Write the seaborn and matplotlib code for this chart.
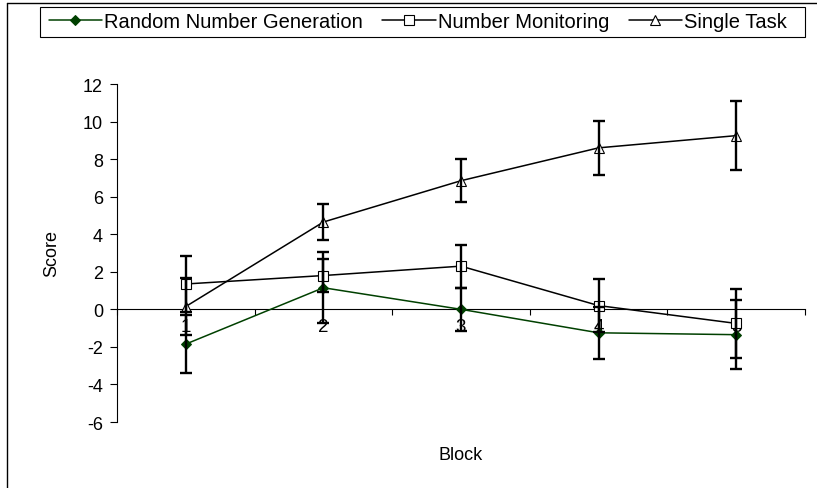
import matplotlib
matplotlib.use("Agg")
import matplotlib.pyplot as plt
import seaborn as sns
from matplotlib.lines import Line2D
from matplotlib.patches import Rectangle

sns.set_theme(style="ticks")
plt.rcParams["font.family"] = ["Liberation Sans", "DejaVu Sans"]
plt.rcParams["text.color"] = "black"
plt.rcParams["axes.labelcolor"] = "black"
plt.rcParams["xtick.color"] = "black"
plt.rcParams["ytick.color"] = "black"
plt.rcParams["axes.unicode_minus"] = False

# Data
blocks = [1, 2, 3, 4, 5]
rng_mean = [-1.85, 1.15, 0.0, -1.25, -1.35]
rng_err = [1.55, 1.9, 1.15, 1.4, 1.85]
nm_mean = [1.35, 1.8, 2.3, 0.2, -0.75]
nm_err = [1.5, 0.9, 1.15, 1.4, 1.85]
single_mean = [0.15, 4.65, 6.85, 8.6, 9.25]
single_err = [1.5, 0.95, 1.15, 1.45, 1.85]

GREEN = "#004000"
W, H = 817, 489

fig = plt.figure(figsize=(W / 100, H / 100), dpi=100)
ax = fig.add_axes([117 / W, 66 / H, 688 / W, 338 / H])

series = [
    ("Random Number Generation", rng_mean, rng_err,
     dict(color=GREEN, marker="D", markersize=5.5, markerfacecolor=GREEN, markeredgecolor=GREEN)),
    ("Number Monitoring", nm_mean, nm_err,
     dict(color="black", marker="s", markersize=7, markerfacecolor="white", markeredgecolor="black",
          markeredgewidth=0.8)),
    ("Single Task", single_mean, single_err,
     dict(color="black", marker="^", markersize=7.5, markerfacecolor="white", markeredgecolor="black",
          markeredgewidth=0.8)),
]

for name, mean, err, style in series:
    sns.lineplot(x=blocks, y=mean, ax=ax, label=name, linewidth=1.1, zorder=3, **style)
    ax.errorbar(blocks, mean, yerr=err, fmt="none", ecolor="black",
                elinewidth=1.7, capsize=4, capthick=1.7, zorder=4)

handles, labels = ax.get_legend_handles_labels()
ax.get_legend().remove()

ax.set_xlim(0.5, 5.5)
ax.set_ylim(-6, 12)
ax.set_yticks(range(-6, 13, 2))
ax.set_xticks([b - 0.5 for b in blocks] + [5.5])
ax.set_xticklabels([])
ax.set_xticks(blocks, minor=True)
ax.set_xticklabels([str(b) for b in blocks], minor=True)

ax.spines["top"].set_visible(False)
ax.spines["right"].set_visible(False)
ax.spines["bottom"].set_position(("data", 0))
for s in ("left", "bottom"):
    ax.spines[s].set_color("black")
    ax.spines[s].set_linewidth(0.8)

ax.tick_params(axis="x", which="major", direction="out", length=4, width=0.8)
ax.tick_params(axis="x", which="minor", length=0, pad=6, labelsize=13.5)
ax.tick_params(axis="y", direction="out", length=5, width=0.8, pad=5, labelsize=13)

ax.set_ylabel("Score", fontsize=13)
ax.yaxis.set_label_coords(-0.083, 0.5)
ax.set_xlabel("Block", fontsize=13)
ax.xaxis.set_label_coords(0.5, -0.07)

# legend entries without frame; the wide Excel-style box is drawn separately
fig.legend(handles, labels, ncol=3, loc="center",
           bbox_to_anchor=(418 / W, 1 - 23 / H), frameon=False,
           fontsize=14.5, handlelength=2.65, handletextpad=0.12,
           columnspacing=0.95, borderpad=0.3)
fig.add_artist(Rectangle((40 / W, 1 - 38 / H), 765 / W, 30 / H, transform=fig.transFigure,
                         fill=False, edgecolor="black", linewidth=0.8))

# outer chart-area border (only top and left edges fall inside the picture)
fig.add_artist(Line2D([7 / W, 7 / W], [0, 1 - 4 / H], transform=fig.transFigure,
                      color="black", linewidth=1))
fig.add_artist(Line2D([7 / W, 1], [1 - 4 / H, 1 - 4 / H], transform=fig.transFigure,
                      color="black", linewidth=1))

fig.savefig("out.png", dpi=100)
